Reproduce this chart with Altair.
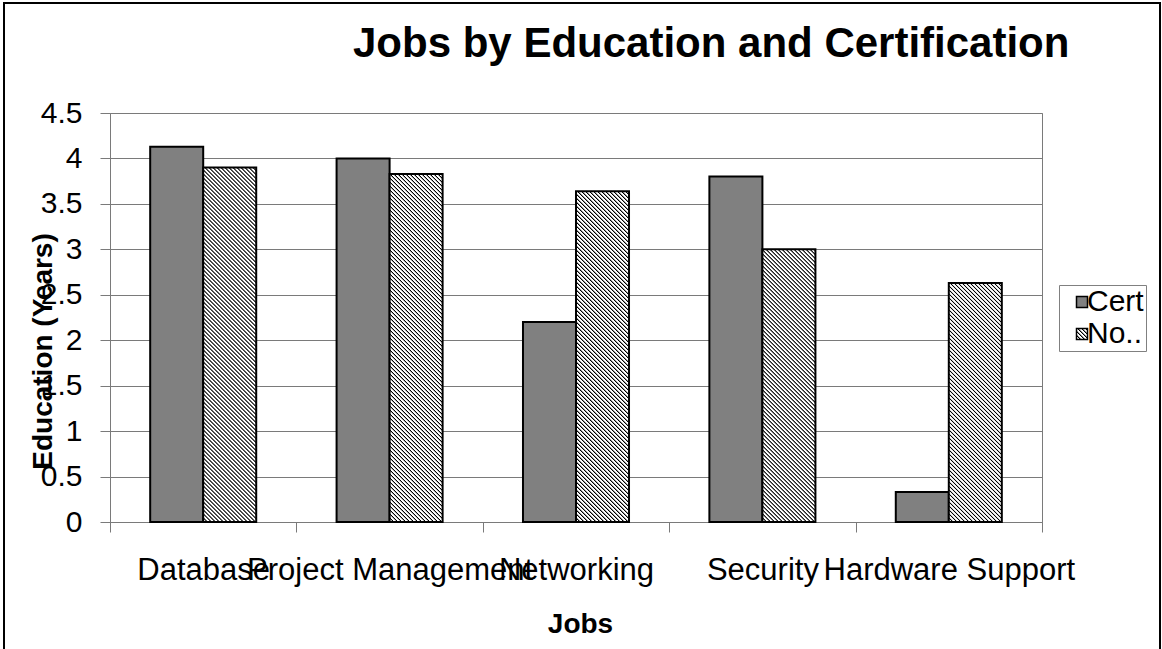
import altair as alt
import pandas as pd

# ---- data -------------------------------------------------------------
jobs = ["Database", "Project Management", "Networking", "Security", "Hardware Support"]
series = ["Cert", "No Cert"]
cert_years = [4.13, 4.00, 2.20, 3.80, 0.33]
no_cert_years = [3.90, 3.83, 3.64, 3.00, 2.63]
y_ticks = [0, 0.5, 1, 1.5, 2, 2.5, 3, 3.5, 4, 4.5]

# ---- layout -----------------------------------------------------------
CANVAS_W, CANVAS_H = 1162, 649
LEFT, TOP = 110, 113
PLOT_W, PLOT_H = 932, 409
Y_MAX = 4.5
OUTER = 0.758  # outer padding of the within-group band scale
BAR_W = PLOT_W / len(jobs) / (2 + 2 * OUTER)

FONT = "Liberation Sans, Arial, sans-serif"
GRAY = "#808080"
LINE_GRAY = "#7a7a7a"

rows = []
for job, c, n in zip(jobs, cert_years, no_cert_years):
    rows.append({"job": job, "series": "Cert", "years": c})
    rows.append({"job": job, "series": "No Cert", "years": n})
df = pd.DataFrame(rows)


def hatch_expr(w, h, period=4.0):
    """Diagonal black/white stripes as a linear gradient in bounding-box units.

    Each period has a short dark core, soft ramps and a wider light band,
    which keeps the stripes even when sampled on the pixel grid.
    """
    span = w + h
    c = span / (w * w + h * h)
    x2, y2 = c * w, 1 - c * h
    profile = [(0.0, "#000"), (0.12, "#000"), (0.34, "#fff"), (0.78, "#fff"), (1.0, "#000")]
    stops = []
    k = 0
    while k * period < span:
        for frac, col in profile:
            off = min((k + frac) * period / span, 1.0)
            stops.append((off, col))
        k += 1
    s = ",".join("{offset:%.5f,color:'%s'}" % (o, col) for o, col in stops)
    return "{gradient:'linear',x1:0,y1:1,x2:%.5f,y2:%.5f,stops:[%s]}" % (x2, y2, s)


legend_hatch = alt.ExprRef(expr=hatch_expr(11, 11, period=4.0))
bar_hatches = [
    alt.ExprRef(expr=hatch_expr(BAR_W, v * PLOT_H / Y_MAX)) for v in no_cert_years
]

x_enc = alt.X(
    "job:N",
    sort=jobs,
    scale=alt.Scale(domain=jobs, paddingInner=0, paddingOuter=0),
    axis=alt.Axis(
        title="Jobs",
        tickBand="extent",
        labelAngle=0,
        labelOverlap=False,
        labelLimit=2000,
        labelFontSize=31,
        labelBaseline="alphabetic",
        labelPadding=47,
        tickSize=10,
        tickColor=LINE_GRAY,
        domainColor=LINE_GRAY,
        grid=False,
        titleFontSize=28,
        titleFontWeight="bold",
        titleBaseline="alphabetic",
        titleX=470,
        titleY=110,
    ),
)
xoff_enc = alt.XOffset(
    "series:N",
    scale=alt.Scale(domain=series, paddingInner=0, paddingOuter=OUTER),
)
y_enc = alt.Y(
    "years:Q",
    scale=alt.Scale(domain=[0, Y_MAX], nice=False, zero=True),
    axis=alt.Axis(
        title="Education (Years)",
        values=y_ticks,
        format="~g",
        labelFontSize=30,
        labelPadding=18,
        tickSize=10,
        tickColor=LINE_GRAY,
        domainColor=LINE_GRAY,
        grid=True,
        gridColor=LINE_GRAY,
        titleFontSize=28,
        titleFontWeight="bold",
        titleAngle=-90,
        titleAlign="center",
        titleBaseline="middle",
        titleX=-67,
        titleY=238,
    ),
)

base = alt.Chart(df)

cert_bars = base.transform_filter(alt.datum.series == "Cert").mark_bar(
    stroke="black", strokeWidth=2
).encode(
    x=x_enc,
    xOffset=xoff_enc,
    y=y_enc,
    fill=alt.Fill(
        "series:N",
        scale=alt.Scale(domain=series, range=[GRAY, legend_hatch]),
        legend=alt.Legend(
            orient="none",
            legendX=949,
            legendY=172,
            title=None,
            direction="vertical",
            symbolType="square",
            symbolSize=121,
            symbolStrokeColor="black",
            symbolStrokeWidth=1.5,
            symbolOffset=6,
            labelFontSize=30,
            labelOffset=alt.ExprRef(expr="-10"),
            labelExpr="datum.label == 'No Cert' ? 'No..' : datum.label",
            rowPadding=2,
            padding=2,
            strokeColor=GRAY,
            fillColor="white",
        ),
    ),
)

no_cert_bars = base.transform_filter(alt.datum.series == "No Cert").mark_bar(
    stroke="black", strokeWidth=2
).encode(
    x=x_enc,
    xOffset=xoff_enc,
    y=y_enc,
    fill=alt.Fill(
        "job:N",
        scale=alt.Scale(domain=jobs, range=bar_hatches),
        legend=None,
    ),
)

frame = alt.Chart(alt.Data(values=[{}])).mark_rect(
    fillOpacity=0, stroke="black", strokeWidth=2
).encode(
    x=alt.value(4 - LEFT),
    x2=alt.value(1160 - LEFT),
    y=alt.value(3 - TOP),
    y2=alt.value(CANVAS_H + 40 - TOP),
)

chart = (
    alt.layer(cert_bars, no_cert_bars, frame)
    .resolve_scale(fill="independent")
    .properties(
        width=PLOT_W,
        height=PLOT_H,
        autosize=alt.AutoSizeParams(type="none"),
        padding={
            "left": LEFT,
            "top": TOP,
            "right": CANVAS_W - LEFT - PLOT_W,
            "bottom": CANVAS_H - TOP - PLOT_H,
        },
        background="white",
        title=alt.TitleParams(
            "Jobs by Education and Certification",
            anchor="start",
            frame="group",
            dx=243,
            dy=97,
            fontSize=42,
            fontWeight="bold",
            font=FONT,
            color="black",
            baseline="alphabetic",
            offset=0,
        ),
    )
    .configure(font=FONT)
    .configure_axis(labelColor="black", titleColor="black", labelFont=FONT, titleFont=FONT)
    .configure_legend(labelColor="black", labelFont=FONT)
    .configure_view(stroke=LINE_GRAY, strokeWidth=1)
)

chart.save("out.html", embed_options={"renderer": "svg", "actions": False})
